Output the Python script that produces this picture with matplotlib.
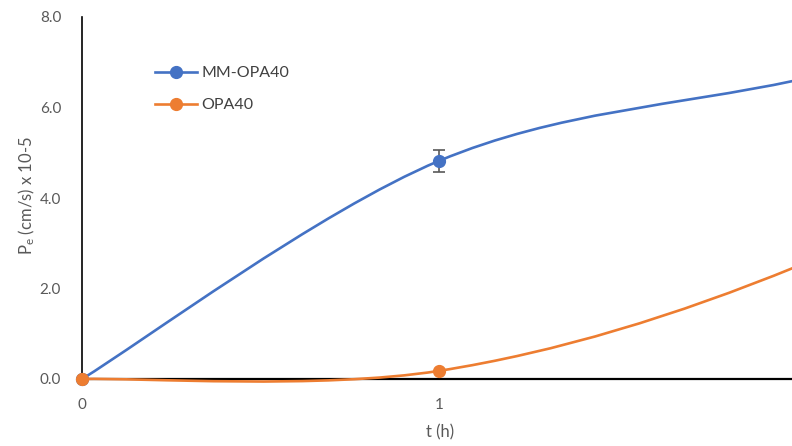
import matplotlib
matplotlib.use("Agg")
import matplotlib.pyplot as plt
import numpy as np
from matplotlib.path import Path
from matplotlib.patches import PathPatch
from matplotlib.lines import Line2D
from matplotlib.transforms import Bbox, TransformedBbox

plt.rcParams['font.family'] = ['Lato', 'DejaVu Sans']
plt.rcParams['mathtext.fontset'] = 'custom'
plt.rcParams['mathtext.rm'] = 'Lato'
plt.rcParams['mathtext.it'] = 'Lato:italic'

# Sampling times (h) and apparent permeability values (x 10^-5 cm/s)
t_h = [0, 1, 2, 3]
mm_opa40 = [0.0, 4.82, 6.60, 8.20]
opa40 = [0.0, 0.18, 2.48, 6.60]
mm_opa40_err = [0.0, 0.25, 0.0, 0.0]

series_names = ["MM-OPA40", "OPA40"]
x_ticks = [0, 1]
y_ticks = [0.0, 2.0, 4.0, 6.0, 8.0]

BLUE = "#4472C4"
ORANGE = "#ED7D31"
GREY = "#595959"

W, H = 792, 446
fig = plt.figure(figsize=(W / 100, H / 100), dpi=100)
ax_left, ax_right, ax_top, ax_bottom = 82, 792, 17, 379
ax = fig.add_axes([ax_left / W, 1 - ax_bottom / H, (ax_right - ax_left) / W, (ax_bottom - ax_top) / H])

# x range: one category spans 357 px
ax.set_xlim(0, (ax_right - ax_left) / 357)
ax.set_ylim(0, 8)


def smooth_path(xs, ys):
    """Cubic Bezier spline through the points (spreadsheet-style smoothing)."""
    pts = np.column_stack([xs, ys]).astype(float)
    n = len(pts)
    verts = [pts[0]]
    codes = [Path.MOVETO]
    for i in range(n - 1):
        p0 = pts[max(i - 1, 0)]
        p1 = pts[i]
        p2 = pts[i + 1]
        p3 = pts[min(i + 2, n - 1)]
        c1 = p1 + (p2 - p0) / 6.0
        c2 = p2 - (p3 - p1) / 6.0
        verts += [c1, c2, p2]
        codes += [Path.CURVE4] * 3
    return Path(verts, codes)


# markers may overhang the left/bottom axes; ones past the right edge are hidden
marker_clip = TransformedBbox(Bbox.from_extents(-0.05, -0.05, 0.985, 1.05), ax.transAxes)

lw = 1.9
ms = 8.5
for ys, col, z in [(mm_opa40, BLUE, 3), (opa40, ORANGE, 4)]:
    patch = PathPatch(smooth_path(t_h, ys), fill=False, edgecolor=col, lw=lw,
                      capstyle='round', joinstyle='round', zorder=z, clip_on=False)
    ax.add_patch(patch)
    mk, = ax.plot(t_h, ys, linestyle='none', marker='o', color=col, markersize=ms,
                  zorder=z + 0.5)
    mk.set_clip_path(None)
    mk.set_clip_box(marker_clip)

# Error bar on the MM-OPA40 series
err_idx = [i for i, e in enumerate(mm_opa40_err) if e > 0]
ax.errorbar([t_h[i] for i in err_idx], [mm_opa40[i] for i in err_idx],
            yerr=[mm_opa40_err[i] for i in err_idx], fmt='none', ecolor=GREY,
            elinewidth=1.2, capsize=4.5, capthick=1.2, zorder=3.2)

# Axes styling
for s in ['top', 'right']:
    ax.spines[s].set_visible(False)
ax.spines['left'].set_color('black')
ax.spines['left'].set_linewidth(1.2)
ax.spines['bottom'].set_color('black')
ax.spines['bottom'].set_linewidth(1.6)
ax.spines['left'].set_zorder(2)
ax.spines['bottom'].set_zorder(2)

ax.set_xticks(x_ticks)
ax.set_xticklabels([str(v) for v in x_ticks])
ax.set_yticks(y_ticks)
ax.set_yticklabels([f"{v:.1f}" for v in y_ticks])
ax.tick_params(axis='both', length=0, labelsize=11, labelcolor=GREY)
ax.tick_params(axis='x', pad=14)
ax.tick_params(axis='y', pad=15)

fig.text(440 / W, 1 - 432 / H, "t (h)", ha='center', va='center', fontsize=12, color=GREY)
fig.text(27 / W, 1 - 196 / H, r"P$_\mathregular{e}$ (cm/s) x 10-5", ha='center', va='center',
         rotation=90, fontsize=12, color=GREY)

handles = [Line2D([], [], color=BLUE, lw=lw, marker='o', markersize=ms),
           Line2D([], [], color=ORANGE, lw=lw, marker='o', markersize=ms)]
leg = fig.legend(handles, series_names, loc='upper left',
                 bbox_to_anchor=(155 / W, 1 - 66 / H), frameon=False,
                 fontsize=11.5, handlelength=2.6, handletextpad=0.3,
                 labelspacing=1.12, borderpad=0, borderaxespad=0)
for txt in leg.get_texts():
    txt.set_color("#404040")

fig.savefig("out.png", dpi=100)
